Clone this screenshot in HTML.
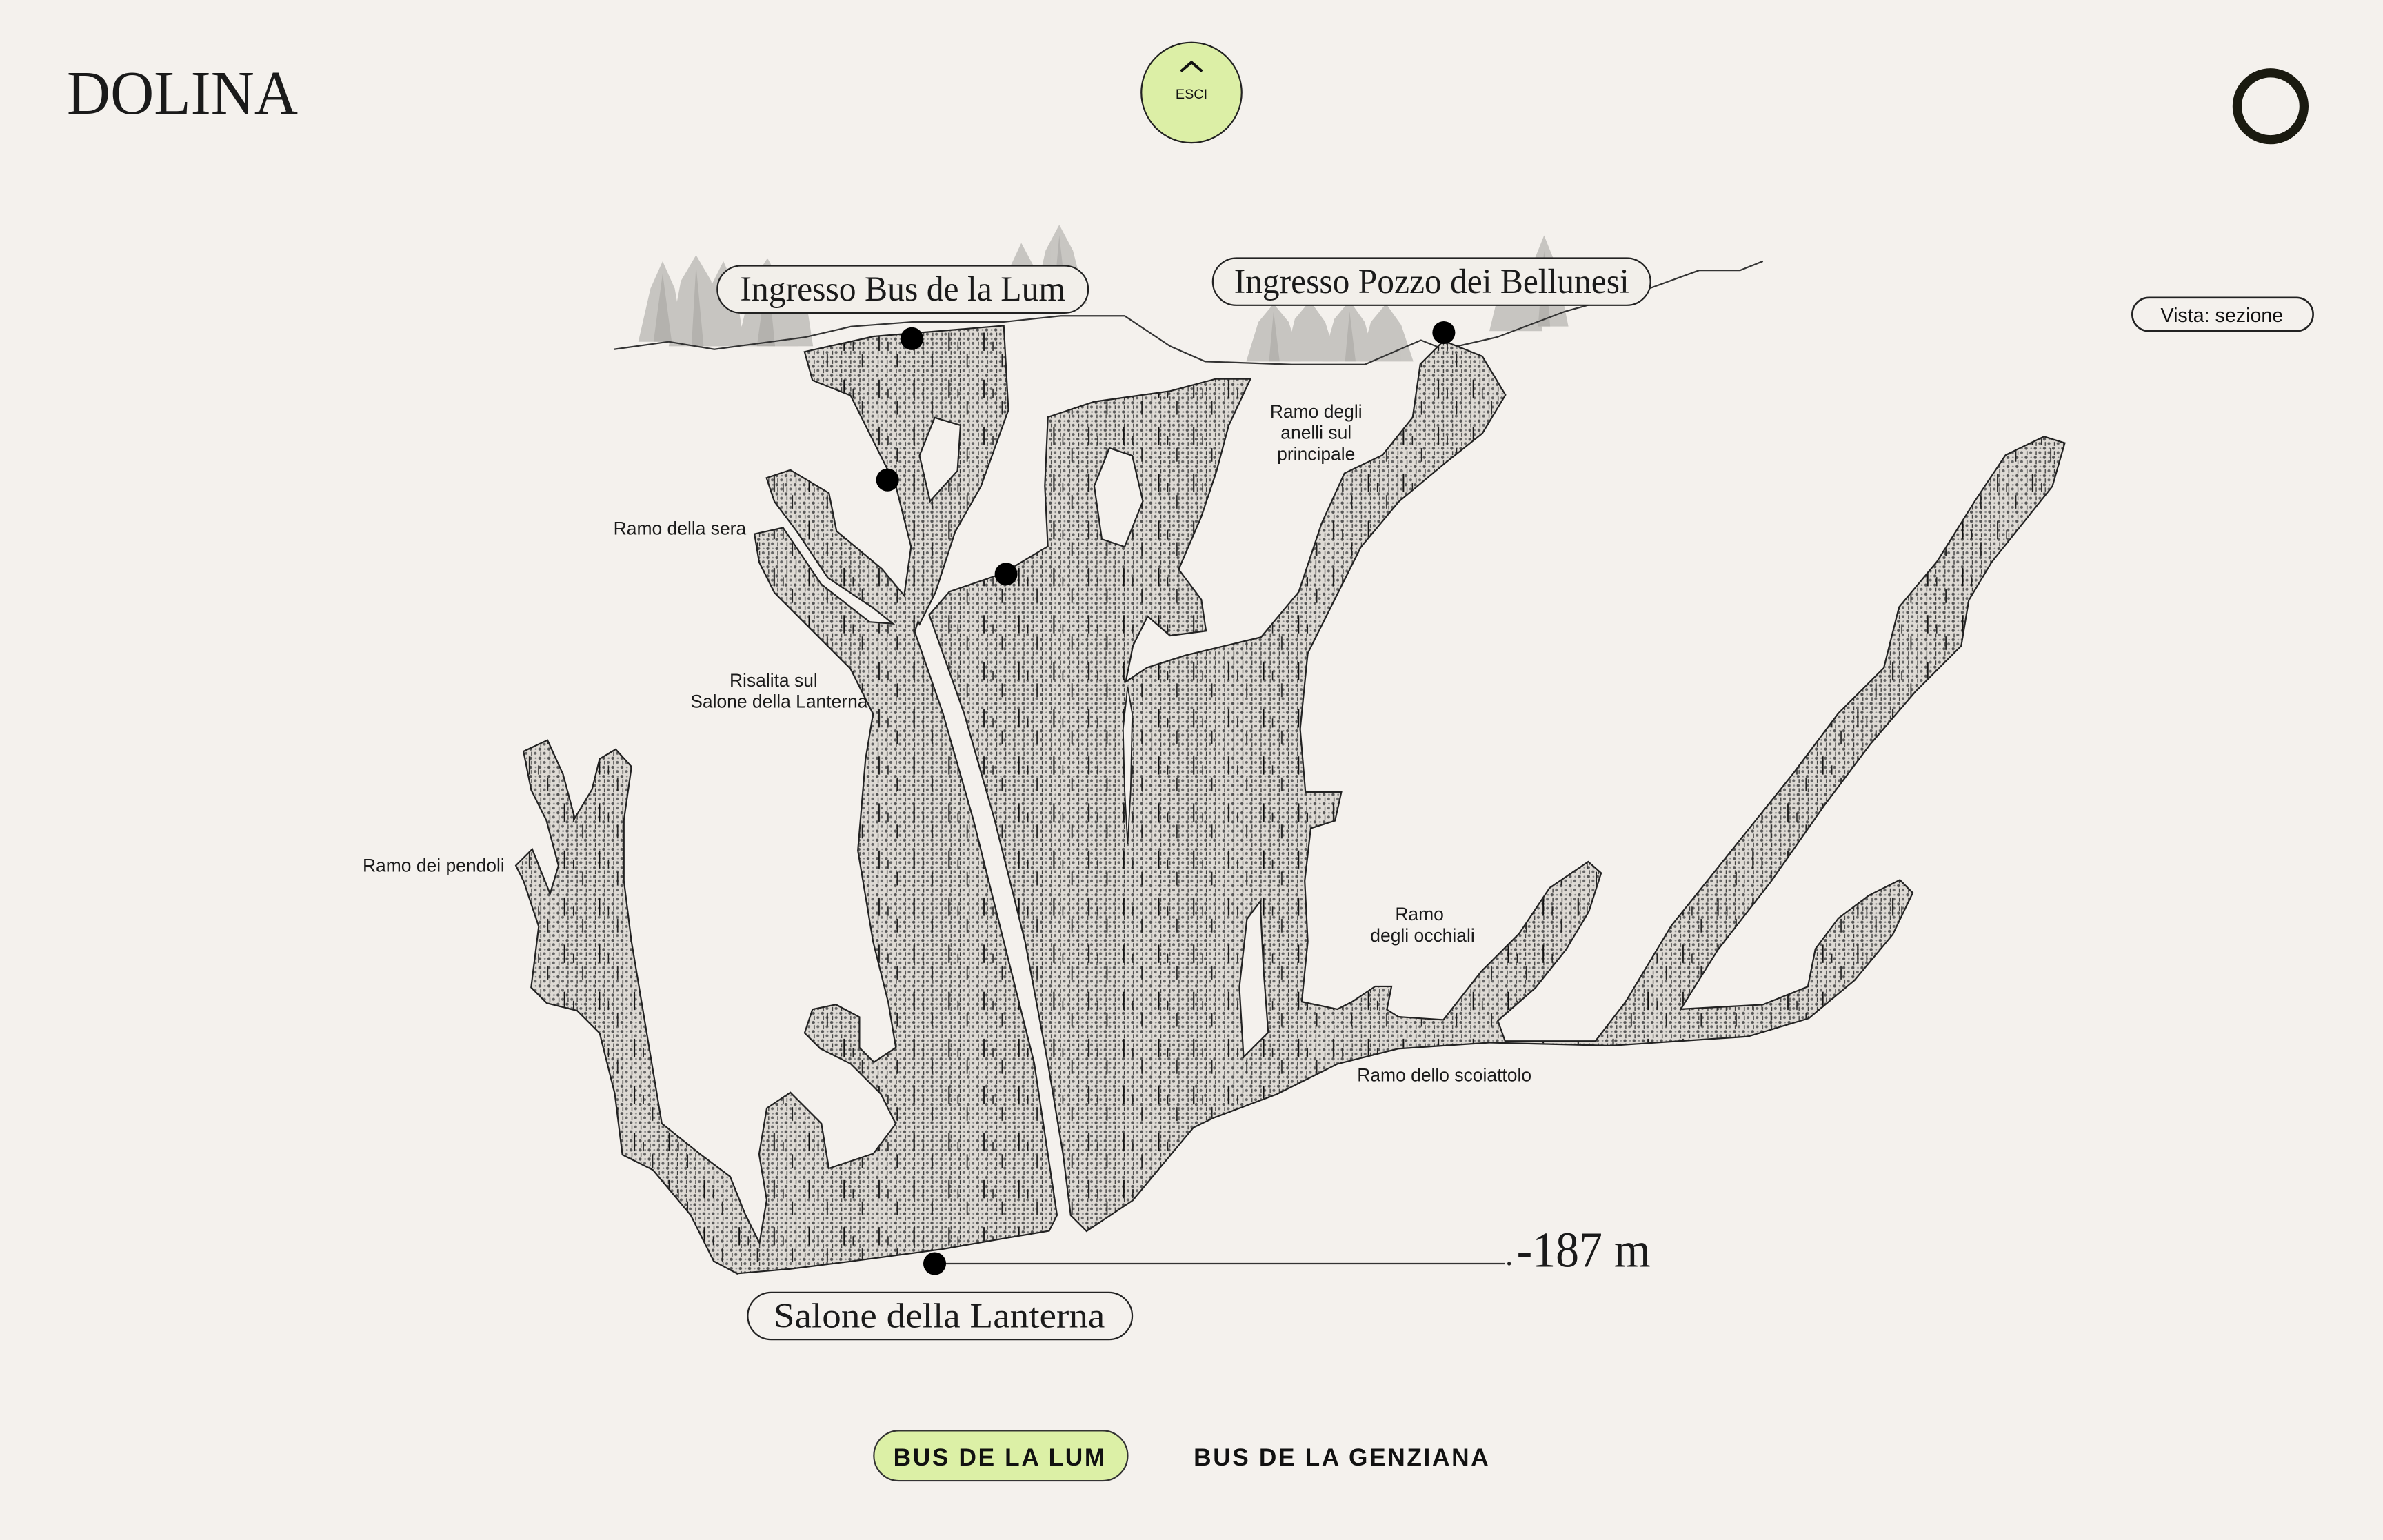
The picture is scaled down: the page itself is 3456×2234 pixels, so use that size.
<!DOCTYPE html>
<html><head><meta charset="utf-8">
<style>
html,body{margin:0;padding:0;background:#f4f1ed;}
svg{display:block}
.serif{font-family:"Liberation Serif",serif}
.sans{font-family:"Liberation Sans",sans-serif}
</style></head>
<body>
<svg width="3456" height="2234" viewBox="0 0 1568 1014" preserveAspectRatio="none" xmlns="http://www.w3.org/2000/svg">
<defs>
<pattern id="dots" width="6" height="6" patternUnits="userSpaceOnUse">
<rect width="6" height="6" fill="#dedad4"/>
<circle cx="1.2" cy="1.2" r="1" fill="#555"/>
<circle cx="4.2" cy="4" r="0.95" fill="#666"/>
<circle cx="4.5" cy="1.2" r="0.6" fill="#888"/>
<rect x="1.5" y="3" width="0.6" height="2.6" fill="#333"/>
</pattern>
<pattern id="dash" width="23" height="31" patternUnits="userSpaceOnUse">
<rect x="3" y="2" width="0.9" height="12" fill="#111"/>
<rect x="15" y="16" width="0.8" height="9" fill="#222"/>
<rect x="9" y="8" width="0.7" height="6" fill="#222"/>
</pattern>
<g id="caves">
<polygon points="530,232 575,222 660,215 663,270 645,320 628,350 615,390 605,410 595,395 600,360 590,320 575,290 560,260 535,250"/>
<polygon points="505,315 520,310 545,325 550,350 580,375 605,405 600,420 575,400 545,380 525,350 510,330"/>
<polygon points="497,352 515,348 540,385 572,410 600,412 620,470 640,540 660,620 680,700 692,780 695,800 690,810 660,815 620,822 560,830 520,835 485,838 480,830 500,820 505,790 500,760 505,730 520,720 540,740 545,770 575,760 590,740 580,720 560,700 540,690 530,680 535,665 550,662 565,670 565,690 575,700 590,690 585,660 575,620 565,560 570,500 575,470 560,440 530,410 510,390 500,370"/>
<polygon points="612,405 625,390 660,378 690,360 688,320 690,275 720,265 770,258 800,250 822,250 808,280 800,310 790,340 775,375 790,395 793,415 770,418 755,405 745,425 740,450 755,440 780,432 830,420 855,390 870,345 885,312 910,300 930,275 935,240 950,225 975,235 990,260 975,285 950,305 920,330 895,360 875,400 860,430 855,480 860,540 852,565 835,585 820,605 815,650 818,700 810,730 785,742 770,760 745,790 715,810 705,800 700,760 690,700 675,620 655,540 635,470"/>
<polygon points="345,495 360,488 370,510 378,540 390,520 395,500 405,494 415,505 410,540 410,580 415,620 425,680 435,740 460,760 480,775 490,800 500,820 485,838 470,830 455,800 430,770 410,760 405,720 395,680 380,665 360,660 350,650 355,610 345,580 340,570 350,560 362,590 368,570 360,540 350,520"/>
<polygon points="770,745 780,725 800,715 820,695 835,680 832,640 830,600 830,525 860,522 882,522 878,540 862,545 858,580 860,620 856,660 880,665 890,660 905,650 915,650 912,665 920,670 950,672 975,640 1000,615 1020,585 1045,568 1053,575 1045,600 1030,625 1010,650 985,672 990,686 1050,686 1070,660 1100,610 1140,560 1180,510 1210,470 1240,440 1250,400 1275,370 1300,330 1320,300 1345,288 1358,292 1350,320 1330,345 1310,370 1295,395 1290,425 1260,455 1230,490 1200,530 1165,580 1130,625 1105,665 1160,662 1190,650 1195,625 1210,605 1230,590 1250,580 1258,588 1245,615 1220,645 1190,670 1150,682 1060,688 980,686 920,690 880,700 840,720 800,735"/>
</g>
</defs>
<rect width="1568" height="1014" fill="#f4f1ed"/>

<!-- trees -->
<g fill="#c3c1bd" opacity="0.9">
<path d="M420,225 L428,190 L436,172 L444,190 L450,225Z"/>
<path d="M440,228 L448,185 L458,168 L468,185 L474,228Z"/>
<path d="M460,228 L468,188 L476,172 L484,190 L490,228Z"/>
<path d="M485,228 L495,185 L505,170 L515,188 L525,228Z"/>
<path d="M505,228 L515,195 L522,178 L530,195 L535,228Z"/>
<path d="M658,205 L665,175 L672,160 L680,175 L686,205Z"/>
<path d="M680,200 L688,165 L697,148 L706,165 L715,200Z"/>
<path d="M820,238 L828,212 L838,200 L848,212 L856,238Z"/>
<path d="M845,238 L852,210 L862,198 L872,212 L880,238Z"/>
<path d="M870,238 L878,210 L888,198 L898,212 L905,238Z"/>
<path d="M895,238 L902,212 L912,200 L922,214 L930,238Z"/>
<path d="M980,218 L988,185 L998,172 L1008,186 L1015,218Z"/>
<path d="M1000,215 L1008,175 L1016,155 L1024,175 L1032,215Z"/>
</g>
<g fill="#a9a7a3" opacity="0.6">
<path d="M430,225 L436,180 L442,225Z"/><path d="M455,228 L458,175 L463,228Z"/><path d="M498,228 L505,178 L510,228Z"/>
<path d="M693,200 L697,155 L702,200Z"/><path d="M835,238 L838,205 L842,238Z"/><path d="M885,238 L888,205 L892,238Z"/><path d="M1012,215 L1016,165 L1020,215Z"/>
</g>

<!-- ground -->
<polyline points="404,230 440,225 470,230 530,222 560,215 600,212 640,212 660,212 698,208 740,208 770,228 793,238 850,240 898,240 935,224 950,230 985,222 1030,205 1085,190 1118,178 1145,178 1160,172" fill="none" stroke="#333" stroke-width="1"/>

<!-- caves -->
<use href="#caves" fill="none" stroke="#222" stroke-width="2"/>
<use href="#caves" fill="url(#dots)" stroke="none"/>
<use href="#caves" fill="url(#dash)" stroke="none"/>
<!-- holes -->
<polygon points="615,275 632,280 630,310 612,330 605,300" fill="#f4f1ed" stroke="#222" stroke-width="1"/>
<polygon points="730,295 745,300 752,330 740,360 725,355 720,320" fill="#f4f1ed" stroke="#222" stroke-width="1"/>
<polygon points="742,452 745,470 744,520 742,556 740,520 739,480" fill="#f4f1ed" stroke="#222" stroke-width="0.8"/>

<!-- depth line -->
<line x1="615" y1="832" x2="990" y2="832" stroke="#333" stroke-width="1"/>
<circle cx="993" cy="832" r="1.2" fill="#222"/>
<text x="998" y="834" class="serif" font-size="33" fill="#1a1a1a" textLength="88" lengthAdjust="spacingAndGlyphs">-187 m</text>

<!-- dots -->
<g fill="#000">
<circle cx="600" cy="223" r="7.5"/>
<circle cx="584" cy="316" r="7.5"/>
<circle cx="662" cy="378" r="7.5"/>
<circle cx="950" cy="219" r="7.5"/>
<circle cx="615" cy="832" r="7.5"/>
</g>

<!-- pills -->
<rect x="472" y="175" width="244" height="31" rx="15.5" fill="#f2efea" stroke="#222" stroke-width="1"/>
<text x="594" y="198" text-anchor="middle" class="serif" font-size="23" fill="#1a1a1a" textLength="214" lengthAdjust="spacingAndGlyphs">Ingresso Bus de la Lum</text>
<rect x="798" y="170" width="288" height="31" rx="15.5" fill="#f2efea" stroke="#222" stroke-width="1"/>
<text x="942" y="193" text-anchor="middle" class="serif" font-size="23" fill="#1a1a1a" textLength="260" lengthAdjust="spacingAndGlyphs">Ingresso Pozzo dei Bellunesi</text>
<rect x="492" y="851" width="253" height="31" rx="15.5" fill="#f4f1ed" stroke="#222" stroke-width="1"/>
<text x="618" y="874" text-anchor="middle" class="serif" font-size="23" fill="#1a1a1a" textLength="218" lengthAdjust="spacingAndGlyphs">Salone della Lanterna</text>

<!-- small labels -->
<g class="sans" font-size="12" fill="#1a1a1a">
<text x="866" y="275" text-anchor="middle">Ramo degli</text>
<text x="866" y="289" text-anchor="middle">anelli sul</text>
<text x="866" y="303" text-anchor="middle">principale</text>
<text x="491" y="352" text-anchor="end">Ramo della sera</text>
<text x="538" y="452" text-anchor="end">Risalita sul</text>
<text x="571" y="466" text-anchor="end">Salone della Lanterna</text>
<text x="332" y="574" text-anchor="end">Ramo dei pendoli</text>
<text x="934" y="606" text-anchor="middle">Ramo</text>
<text x="936" y="620" text-anchor="middle">degli occhiali</text>
<text x="893" y="712">Ramo dello scoiattolo</text>
</g>

<!-- header -->
<text x="44" y="75" class="serif" font-size="41" fill="#1a1a1a" textLength="152" lengthAdjust="spacingAndGlyphs">DOLINA</text>
<circle cx="784" cy="61" r="33" fill="#dcefa6" stroke="#222" stroke-width="1"/>
<polyline points="777,47 784,41 791,47" fill="none" stroke="#111" stroke-width="1.8"/>
<text x="784" y="65" text-anchor="middle" class="sans" font-size="9" fill="#111">ESCI</text>
<circle cx="1494" cy="70" r="22" fill="none" stroke="#1a1a10" stroke-width="6"/>
<rect x="1403" y="196" width="119" height="22" rx="11" fill="#f4f1ed" stroke="#222" stroke-width="1.2"/>
<text x="1462" y="212" text-anchor="middle" class="sans" font-size="13" fill="#111">Vista: sezione</text>

<!-- bottom tabs -->
<rect x="575" y="942" width="167" height="33" rx="16.5" fill="#dcf0a6" stroke="#333" stroke-width="1"/>
<text x="658" y="965" text-anchor="middle" class="sans" font-size="16" font-weight="bold" letter-spacing="1.2" fill="#111">BUS DE LA LUM</text>
<text x="883" y="965" text-anchor="middle" class="sans" font-size="16" font-weight="bold" letter-spacing="1.2" fill="#111">BUS DE LA GENZIANA</text>
</svg>
</body></html>
